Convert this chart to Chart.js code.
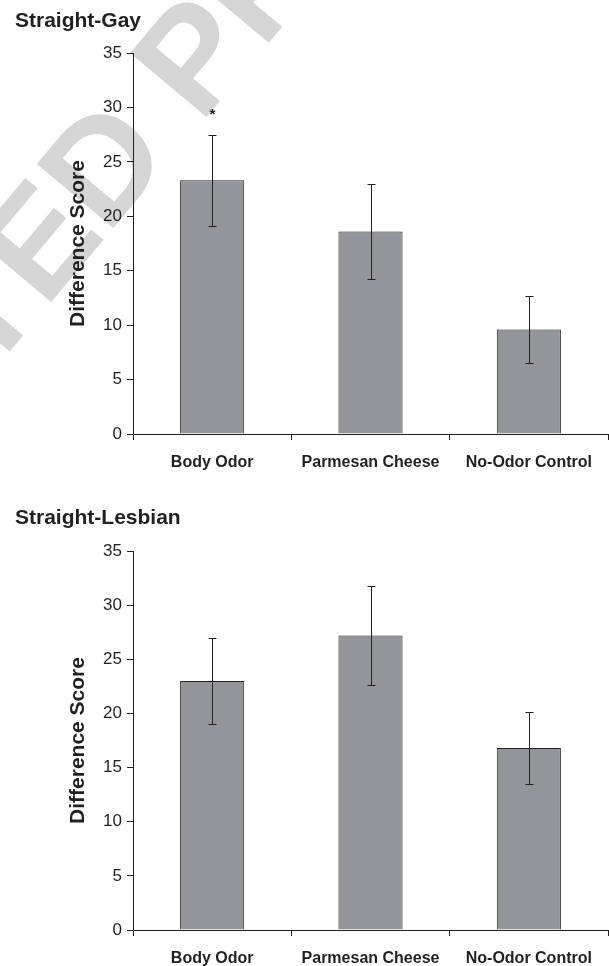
<!DOCTYPE html>
<html>
<head>
<meta charset="utf-8">
<script src="https://cdn.jsdelivr.net/npm/chart.js@4.4.0/dist/chart.umd.min.js"></script>
<style>
  body { margin: 0; background: #fff; }
  #wrap { position: relative; width: 609px; height: 966px; }
  .box { position: absolute; left: 0; width: 609px; }
</style>
</head>
<body>
<div id="wrap">
  <div class="box" style="top:0;height:490px;"><canvas id="gay"></canvas></div>
  <div class="box" style="top:490px;height:476px;"><canvas id="lesbian"></canvas></div>
</div>

<script>
// data
var categories = ['Body Odor', 'Parmesan Cheese', 'No-Odor Control'];
var gayMeans = [23.3, 18.6, 9.6];
var gaySem = [4.2, 4.4, 3.05];
var gayMarks = ['*', '', ''];
var lesbianMeans = [23.0, 27.2, 16.8];
var lesbianSem = [3.95, 4.6, 3.3];
var lesbianMarks = ['', '', ''];
var yMin = 0, yMax = 35, yStep = 5;

var ink = '#231f20';
var fontFamily = '"Liberation Sans", Arial, Helvetica, sans-serif';

var errorBars = {
  id: 'errorBars',
  afterDatasetsDraw: function(chart, args, opts) {
    var ctx = chart.ctx;
    var y = chart.scales.y;
    var means = chart.data.datasets[0].data;
    var meta = chart.getDatasetMeta(0);
    ctx.save();
    ctx.strokeStyle = ink;
    ctx.lineWidth = 1;
    meta.data.forEach(function(bar, i) {
      var x = Math.round(bar.x) + 0.5;
      var top = Math.round(y.getPixelForValue(means[i] + opts.sem[i])) + 0.5;
      var bot = Math.round(y.getPixelForValue(means[i] - opts.sem[i])) + 0.5;
      ctx.beginPath();
      ctx.moveTo(x, top); ctx.lineTo(x, bot);
      ctx.moveTo(x - 4, top); ctx.lineTo(x + 4, top);
      ctx.moveTo(x - 4, bot); ctx.lineTo(x + 4, bot);
      ctx.stroke();
      // significance mark above the bar
      if (opts.marks && opts.marks[i]) {
        ctx.fillStyle = ink;
        ctx.font = 'bold 15px ' + fontFamily;
        ctx.textAlign = 'center';
        ctx.textBaseline = 'middle';
        ctx.fillText(opts.marks[i], x, y.getPixelForValue(means[i] + opts.sem[i] + 2.0) + 2);
      }
    });
    ctx.restore();
  }
};

var watermark = {
  id: 'watermark',
  beforeDraw: function(chart, args, opts) {
    if (!opts.text) return;
    var ctx = chart.ctx;
    ctx.save();
    ctx.font = 'bold ' + opts.size + 'px ' + fontFamily;
    ctx.fillStyle = '#d5d5d5';
    ctx.translate(opts.x, opts.y);
    ctx.rotate(opts.angle * Math.PI / 180);
    var pre = ctx.measureText(opts.text.slice(0, opts.anchor)).width;
    var w = ctx.measureText(opts.text.charAt(opts.anchor)).width;
    ctx.fillText(opts.text, -pre - w / 2, opts.size * 0.36);
    ctx.restore();
  }
};

function makeChart(id, title, means, sem, marks, o) {
  return new Chart(document.getElementById(id), {
    type: 'bar',
    data: {
      labels: categories,
      datasets: [{
        data: means,
        backgroundColor: '#939598',
        borderColor: ink,
        borderWidth: 1,
        barPercentage: 0.405,
        categoryPercentage: 1
      }]
    },
    options: {
      responsive: true,
      maintainAspectRatio: false,
      animation: false,
      layout: { padding: { left: 15, right: 1, top: 0, bottom: 0 } },
      plugins: {
        legend: { display: false },
        tooltip: { enabled: false },
        title: {
          display: true,
          text: title,
          align: 'start',
          color: ink,
          font: { family: fontFamily, size: 21, weight: 'bold' },
          padding: { top: o.titleTop, bottom: o.titleBottom }
        },
        errorBars: { sem: sem, marks: marks },
        watermark: o.watermark || {}
      },
      scales: {
        x: {
          afterFit: function(s) { s.height = o.xHeight; },
          grid: { offset: true, drawOnChartArea: false, drawTicks: true, tickLength: 6, color: ink },
          border: { display: true, color: ink, width: 1 },
          ticks: { color: ink, padding: 13, font: { family: fontFamily, size: 16, weight: 'bold' } }
        },
        y: {
          min: yMin,
          max: yMax,
          afterFit: function(s) { s.width = 118; },
          grid: { drawOnChartArea: false, drawTicks: true, tickLength: 6, color: ink },
          border: { display: true, color: ink, width: 1 },
          ticks: { stepSize: yStep, color: ink, padding: 5, font: { family: fontFamily, size: 17 } },
          title: {
            display: true,
            text: 'Difference Score',
            color: ink,
            font: { family: fontFamily, size: 21, weight: 'bold' },
            padding: { top: 51, bottom: 0 }
          }
        }
      }
    },
    plugins: [watermark, errorBars]
  });
}

makeChart('gay', 'Straight-Gay', gayMeans, gaySem, gayMarks, {
  titleTop: 9, titleBottom: 18.8, xHeight: 56,
  watermark: { text: 'CORRECTED PROOF', anchor: 7, size: 145, x: 36, y: 239, angle: -50 }
});
makeChart('lesbian', 'Straight-Lesbian', lesbianMeans, lesbianSem, lesbianMarks, {
  titleTop: 16, titleBottom: 19.8, xHeight: 36
});
</script>
</body>
</html>
